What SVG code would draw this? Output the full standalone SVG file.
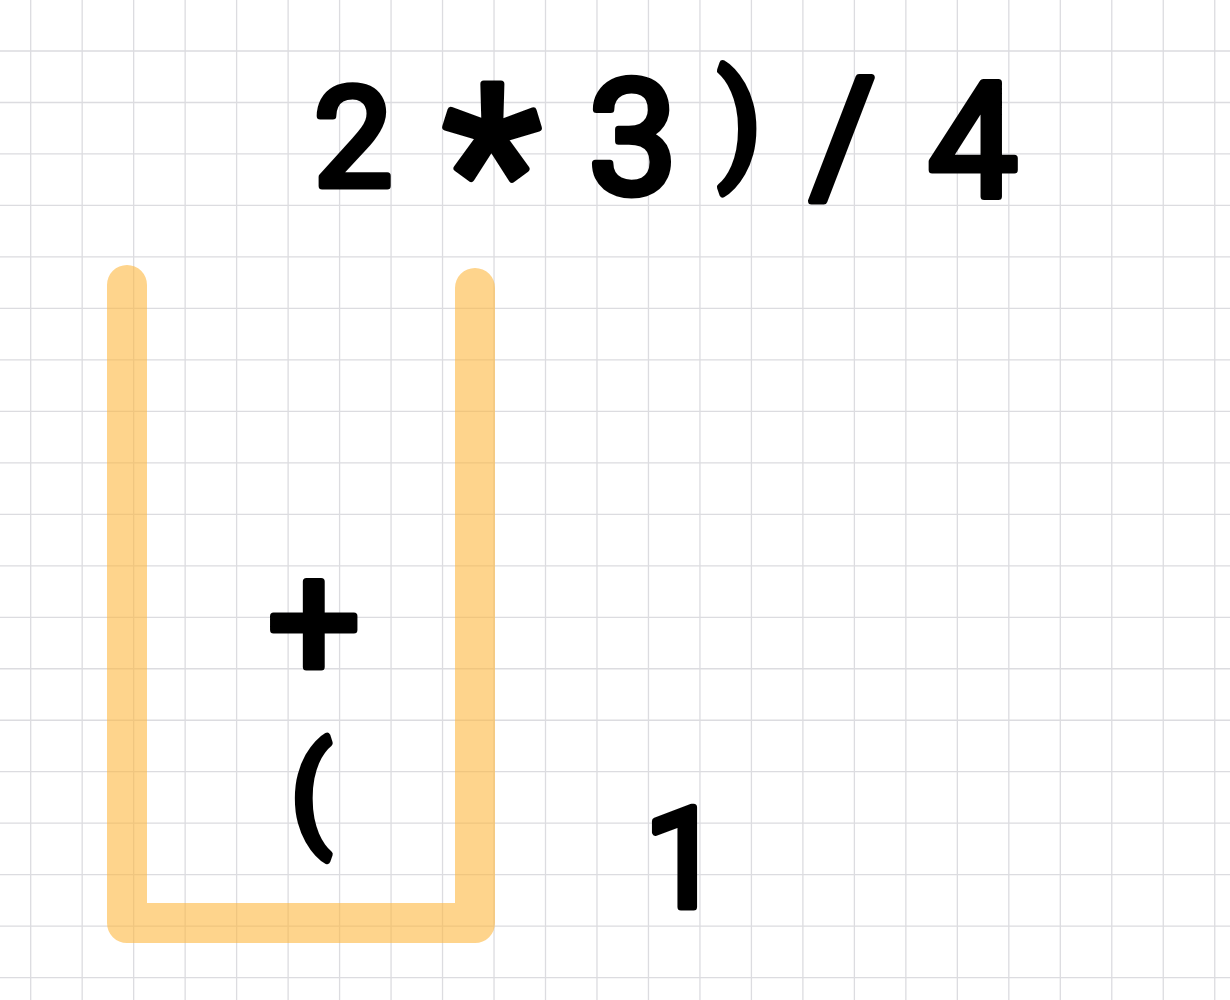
<svg xmlns="http://www.w3.org/2000/svg" width="1230" height="1000" viewBox="0 0 1230 1000">
<style>
.grid{stroke:#dcdce0;stroke-width:1.3;fill:none}
.ch{font-family:Roboto,"Open Sans",sans-serif;fill:#000;stroke:#000;stroke-width:7;stroke-linejoin:round;stroke-linecap:round;text-anchor:middle}
</style>
<rect width="1230" height="1000" fill="#fff"/>
<g id="grid">
<path class="grid" d="M30.7 0V1000M82.18 0V1000M133.66 0V1000M185.14 0V1000M236.62 0V1000M288.1 0V1000M339.58 0V1000M391.06 0V1000M442.54 0V1000M494.02 0V1000M545.5 0V1000M596.98 0V1000M648.46 0V1000M699.94 0V1000M751.42 0V1000M802.9 0V1000M854.38 0V1000M905.86 0V1000M957.34 0V1000M1008.82 0V1000M1060.3 0V1000M1111.78 0V1000M1163.26 0V1000M1214.74 0V1000"/>
<path class="grid" d="M0 51H1230M0 102.48H1230M0 153.96H1230M0 205.44H1230M0 256.92H1230M0 308.4H1230M0 359.88H1230M0 411.36H1230M0 462.84H1230M0 514.32H1230M0 565.8H1230M0 617.28H1230M0 668.76H1230M0 720.24H1230M0 771.72H1230M0 823.2H1230M0 874.68H1230M0 926.16H1230M0 977.64H1230"/>
</g>
<g id="stack">
<path d="M127 285V923H475V288" fill="none" stroke="#fdb73f" stroke-opacity="0.6" stroke-width="40" stroke-linecap="round" stroke-linejoin="round"/>
</g>
<g id="expression">
<text id="c2" class="ch" x="353" y="186" font-size="140">2</text>
<text id="cstar" class="ch" x="492" y="248" font-size="230">*</text>
<text id="c3" class="ch" x="633" y="193" font-size="160">3</text>
<text id="crparen" class="ch" x="740" y="165" font-size="126">)</text>
<text id="cslash" class="ch" x="843" y="191" font-size="160">/</text>
<text id="c4" class="ch" x="973" y="196" font-size="160">4</text>
</g>
<g id="stack-items">
<text id="cplus" class="ch" x="314" y="679" font-size="165">+</text>
<text id="clparen" class="ch" x="311" y="833" font-size="120">(</text>
</g>
<g id="output">
<text id="c1" class="ch" x="683" y="907" font-size="140">1</text>
</g>
</svg>
